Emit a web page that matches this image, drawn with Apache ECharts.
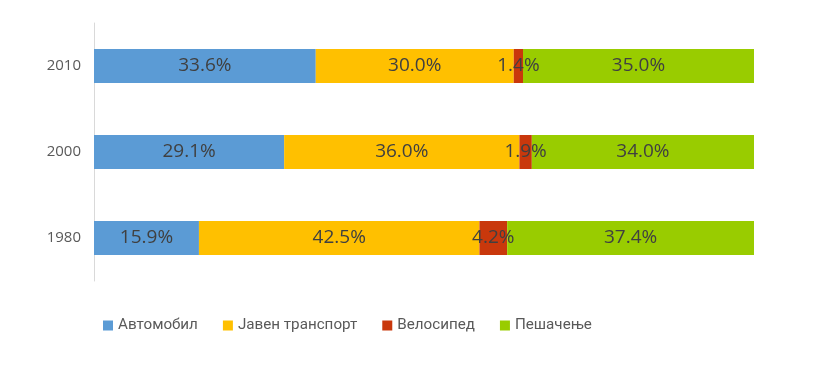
<!DOCTYPE html>
<html>
<head>
<meta charset="utf-8">
<script src="https://cdn.jsdelivr.net/npm/echarts@6/dist/echarts.min.js"></script>
<style>
html,body{margin:0;padding:0;background:#fff;}
#chart{width:840px;height:366px;}
</style>
</head>
<body>
<div id="chart"></div>
<script>
const years = ['1980', '2000', '2010'];
const seriesNames = ['Автомобил', 'Јавен транспорт', 'Велосипед', 'Пешачење'];
const avtomobil = [15.9, 29.1, 33.6];
const javenTransport = [42.5, 36.0, 30.0];
const velosiped = [4.2, 1.9, 1.4];
const pesachenje = [37.4, 34.0, 35.0];
const colors = ['#5B9BD5', '#FFC000', '#C9380C', '#99CC00'];

const raw = [avtomobil, javenTransport, velosiped, pesachenje];
const totals = years.map((_, i) => raw.reduce((s, arr) => s + arr[i], 0));

const chart = echarts.init(document.getElementById('chart'));
chart.setOption({
  animation: false,
  color: colors,
  grid: { left: 94, right: 86, top: 23, height: 258, containLabel: false },
  legend: {
    left: 98, top: 313,
    itemWidth: 10, itemHeight: 10, itemGap: 25,
    icon: 'rect',
    textStyle: { fontFamily: 'Roboto', fontSize: 15.2, color: '#595959' },
    data: seriesNames
  },
  xAxis: { type: 'value', min: 0, max: 100, show: false },
  yAxis: {
    type: 'category', data: years,
    axisLine: { show: true, lineStyle: { color: '#D9D9D9', width: 1 } },
    axisTick: { show: false },
    axisLabel: { fontFamily: 'Open Sans', fontSize: 15, color: '#595959', margin: 13 }
  },
  series: raw.map((arr, k) => ({
    name: seriesNames[k],
    type: 'bar',
    stack: 'total',
    barWidth: 34,
    data: arr.map((v, i) => ({ value: v / totals[i] * 100, raw: v })),
    label: {
      show: true, position: 'inside',
      fontFamily: 'Open Sans', fontSize: 19, color: '#404040',
      formatter: p => p.data.raw.toFixed(1) + '%'
    }
  }))
});
</script>
</body>
</html>
